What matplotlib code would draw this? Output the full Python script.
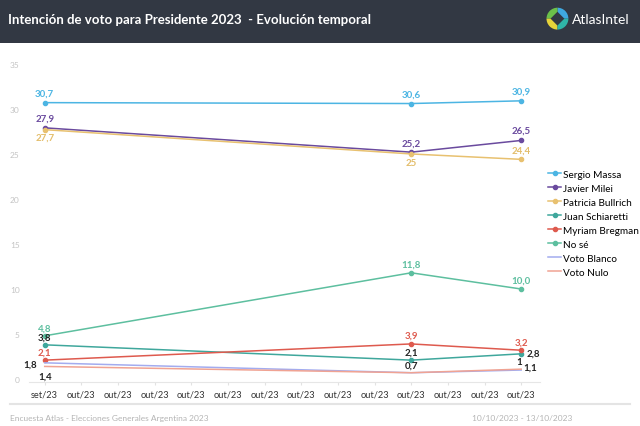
import matplotlib
matplotlib.use("Agg")
import matplotlib.pyplot as plt
import pandas as pd
from matplotlib.patches import Rectangle, Wedge, Polygon
from matplotlib.lines import Line2D

plt.rcParams['font.family'] = ['Lato', 'DejaVu Sans']

# survey dates and results
survey_dates = pd.to_datetime(['2023-09-30', '2023-10-10', '2023-10-13'])
tick_dates = pd.date_range('2023-09-30', '2023-10-13', freq='D')
month_pt = {9: 'set', 10: 'out'}

names = ['Sergio Massa', 'Javier Milei', 'Patricia Bullrich', 'Juan Schiaretti',
         'Myriam Bregman', 'No sé', 'Voto Blanco', 'Voto Nulo']
massa = [30.7, 30.6, 30.9]
milei = [27.9, 25.2, 26.5]
bullrich = [27.7, 25.0, 24.4]
schiaretti = [3.8, 2.1, 2.8]
bregman = [2.1, 3.9, 3.2]
no_se = [4.8, 11.8, 10.0]
blanco = [1.8, 0.7, 1.0]
nulo = [1.4, 0.7, 1.1]
label_text = {
    'Sergio Massa': ['30,7', '30,6', '30,9'],
    'Javier Milei': ['27,9', '25,2', '26,5'],
    'Patricia Bullrich': ['27,7', '25', '24,4'],
    'Juan Schiaretti': ['3,8', '2,1', '2,8'],
    'Myriam Bregman': ['2,1', '3,9', '3,2'],
    'No sé': ['4,8', '11,8', '10,0'],
    'Voto Blanco': ['1,8', '', '1'],
    'Voto Nulo': ['1,4', '0,7', '1,1'],
}
series = [massa, milei, bullrich, schiaretti, bregman, no_se, blanco, nulo]

colors = ['#4cb5e3', '#6a4a9e', '#e8c170', '#3fa79c', '#de5a4e', '#5dbf9f', '#a3acef', '#f0a393']
label_colors = ['#4cb5e3', '#6a4a9e', '#e3bd6a', '#222222', '#de5a4e', '#5dbf9f', '#222222', '#222222']
markers = ['o', 'o', 'o', 'o', 'o', 'o', None, None]
# label offsets in pixels (dx, dy) for each point
offsets = [
    [(0, 10), (0, 9), (0, 10)],
    [(0, 10), (0, 9), (0, 10)],
    [(0, -7), (0, -9), (0, 9)],
    [(0, 8), (0, 8), (12, 1)],
    [(0, 8), (0, 9), (0, 8)],
    [(0, 8), (0, 9), (0, 9)],
    [(-15, -1), (0, 0), (-2, 9)],
    [(0, -10), (0, 8), (9, 2)],
]

fig = plt.figure(figsize=(6.4, 4.27), dpi=100)
fig.patch.set_facecolor('white')

# header band
fig.patches.append(Rectangle((0, 0.897), 1, 0.103, transform=fig.transFigure,
                             facecolor='#323843', edgecolor='none', zorder=0))
fig.text(0.0125, 0.952, 'Intención de voto para Presidente 2023  - Evolución temporal',
         color='white', fontsize=9.5, fontweight='bold', va='center', ha='left')
fig.text(0.893, 0.952, 'AtlasIntel', color='white', fontsize=10, va='center', ha='left')

# logo
logo_ax = fig.add_axes([0.853, 0.927, 0.036, 0.054], zorder=5)
logo_ax.set_xlim(-1, 1)
logo_ax.set_ylim(-1, 1)
logo_ax.set_aspect('equal')
logo_ax.axis('off')
for t1, t2, c in [(0, 90, '#3fa8e0'), (90, 180, '#6cc04a'), (180, 270, '#e6d33a'), (270, 360, '#2fb5a8')]:
    logo_ax.add_patch(Wedge((0, 0), 0.95, t1, t2, facecolor=c, edgecolor='none'))
logo_ax.add_patch(Polygon([(0, 0.6), (0.6, 0), (0, -0.6), (-0.6, 0)], facecolor='#323843'))

ax = fig.add_axes([0.046, 0.1026, 0.797, 0.777])
for i, (name, vals) in enumerate(zip(names, series)):
    ax.plot(survey_dates, vals, color=colors[i], lw=1.1, marker=markers[i],
            markersize=3, label=name, zorder=3)
    for j, (d, v) in enumerate(zip(survey_dates, vals)):
        txt = label_text[name][j]
        if not txt:
            continue
        ax.annotate(txt, (d, v), xytext=offsets[i][j], textcoords='offset pixels',
                    ha='center', va='center', fontsize=7, fontweight='bold',
                    color=label_colors[i], zorder=4)

ax.set_ylim(-0.35, 36.5)
ax.set_xlim(tick_dates[0] - pd.Timedelta(hours=10), tick_dates[-1] + pd.Timedelta(hours=12))
ax.set_yticks(range(0, 36, 5))
ax.set_xticks(tick_dates)
ax.set_xticklabels([f"{month_pt[d.month]}/23" for d in tick_dates])
ax.tick_params(axis='x', labelsize=6.7, colors='#e2e2e2', labelcolor='#333333', length=2, pad=3)
ax.tick_params(axis='y', labelsize=6, labelcolor='#c4c4c4', length=0, pad=7)
for s in ['top', 'right', 'left']:
    ax.spines[s].set_visible(False)
ax.spines['bottom'].set_color('#e6e6e6')
ax.spines['bottom'].set_linewidth(0.8)

handles = []
for i, name in enumerate(names):
    handles.append(Line2D([0], [0], color=colors[i], lw=1.1, marker=markers[i], markersize=3))
ax.legend(handles, names, loc='upper left', bbox_to_anchor=(1.009, 0.653), frameon=False,
          fontsize=7.2, handlelength=1.3, handletextpad=0.2, labelspacing=0.5, borderaxespad=0)

# footer
fig.add_artist(Line2D([0.015, 0.985], [0.051, 0.051], transform=fig.transFigure,
                      color='#e4e4e4', lw=1.5))
fig.text(0.015, 0.021, 'Encuesta Atlas - Elecciones Generales Argentina 2023',
         fontsize=6, color='#b4b4b4', va='center', ha='left')
fig.text(0.738, 0.021, '10/10/2023 - 13/10/2023', fontsize=6, color='#b4b4b4',
         va='center', ha='left')

fig.savefig('out.png', dpi=100)
